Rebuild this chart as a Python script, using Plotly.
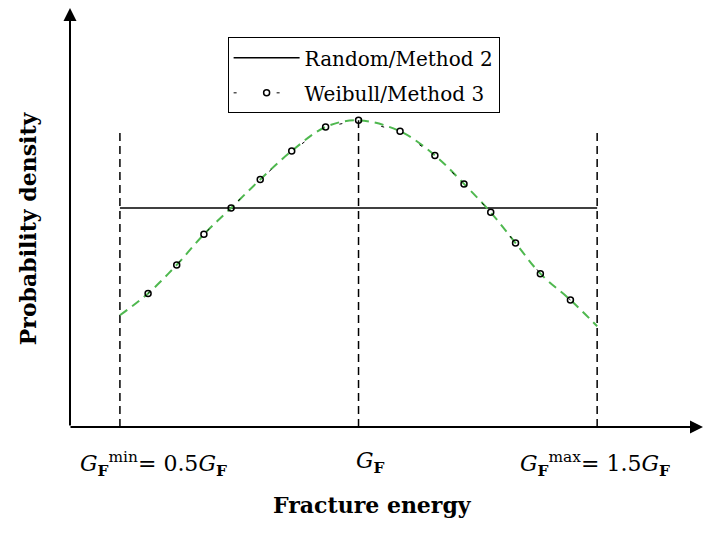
import plotly.graph_objects as go

# ---- data ----
# x in units of mean fracture energy G_F, y = probability density (uniform density = 1)
bound_x = [0.5, 1.0, 1.5]              # G_F^min, G_F, G_F^max
bound_top = [1.36, 1.40, 1.36]         # top of the dashed guide lines
random_x = [0.5, 1.5]
random_y = [1.0, 1.0]
weib_x = [0.559, 0.619, 0.676, 0.733, 0.794, 0.860, 0.931, 1.0,
          1.087, 1.160, 1.221, 1.277, 1.329, 1.381, 1.444]
weib_y = [0.61, 0.74, 0.88, 1.00, 1.13, 1.26, 1.37, 1.40,
          1.35, 1.24, 1.11, 0.98, 0.84, 0.70, 0.58]
curve_x = [0.5] + weib_x + [1.5]
curve_y = [0.51] + weib_y + [0.46]
tick_text = ["<i>G</i><sub><b>F</b></sub><sup>min</sup>= 0.5<i>G</i><sub><b>F</b></sub>",
             "<i>G</i><sub><b>F</b></sub>",
             "<i>G</i><sub><b>F</b></sub><sup>max</sup>= 1.5<i>G</i><sub><b>F</b></sub>"]
tick_shift = [34, 12, -2]

SERIF = "DejaVu Serif"
fig = go.Figure()

# dashed vertical guide lines
for bx, bt in zip(bound_x, bound_top):
    fig.add_trace(go.Scatter(x=[bx, bx], y=[0, bt], mode="lines",
                             line=dict(color="black", width=1.5, dash="8px,5px"),
                             showlegend=False, hoverinfo="skip"))

fig.add_trace(go.Scatter(x=random_x, y=random_y, mode="lines", name="Random/Method 2",
                         legendgroup="a",
                         line=dict(color="black", width=1.5)))

fig.add_trace(go.Scatter(x=curve_x, y=curve_y, mode="lines", showlegend=False,
                         line=dict(color="#4fb84f", width=2, dash="9px,6px", shape="spline"),
                         hoverinfo="skip"))

fig.add_trace(go.Scatter(x=weib_x, y=weib_y, mode="lines+markers", name="Weibull/Method 3",
                         legendgroup="b",
                         line=dict(color="black", width=1, dash="3px,40px"),
                         marker=dict(symbol="circle-open", size=6, color="black",
                                     line=dict(width=1.5, color="black"))))

annotations = []
for bx, t, s in zip(bound_x, tick_text, tick_shift):
    annotations.append(dict(x=bx, y=0, xref="x", yref="y", text=t, showarrow=False,
                            xanchor="center", yanchor="top", xshift=s, yshift=-19,
                            font=dict(family=SERIF, size=22, color="black")))
annotations.append(dict(x=0.478, y=-0.185, xref="paper", yref="paper", text="<b>Fracture energy</b>",
                        showarrow=False, xanchor="center", yanchor="middle",
                        font=dict(family=SERIF, size=22, color="black")))
annotations.append(dict(x=-0.066, y=0.475, xref="paper", yref="paper", text="<b>Probability density</b>",
                        showarrow=False, xanchor="center", yanchor="middle", textangle=-90,
                        font=dict(family=SERIF, size=22, color="black")))
# axis arrows
annotations.append(dict(x=0, y=1, xref="paper", yref="paper", ax=0, ay=419, axref="pixel", ayref="pixel",
                        showarrow=True, arrowhead=2, arrowsize=1.3, arrowwidth=2, arrowcolor="black",
                        text=""))
annotations.append(dict(x=1, y=0, xref="paper", yref="paper", ax=-634, ay=0, axref="pixel", ayref="pixel",
                        showarrow=True, arrowhead=2, arrowsize=1.3, arrowwidth=2, arrowcolor="black",
                        text=""))

fig.update_layout(
    width=704, height=535,
    margin=dict(l=70, r=1, t=8, b=108),
    paper_bgcolor="white", plot_bgcolor="white",
    xaxis=dict(range=[0.3954, 1.7218], showgrid=False, zeroline=False, showticklabels=False,
               ticks="", showline=False),
    yaxis=dict(range=[0, 1.913], showgrid=False, zeroline=False, showticklabels=False,
               ticks="", showline=False),
    legend=dict(x=0.249, y=0.93, xanchor="left", yanchor="top",
                bordercolor="black", borderwidth=1, bgcolor="white",
                font=dict(family=SERIF, size=20, color="black"),
                itemwidth=66, tracegroupgap=6),
    annotations=annotations,
    font=dict(family=SERIF),
)

fig.write_html("out.html")
